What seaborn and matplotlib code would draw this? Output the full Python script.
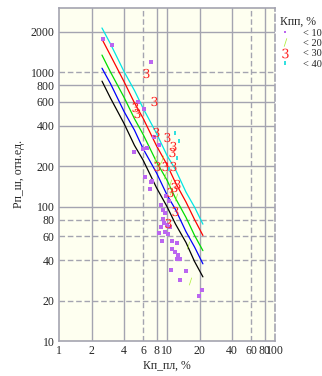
import numpy as np
import pandas as pd
import matplotlib
matplotlib.use("Agg")
import matplotlib.pyplot as plt
import seaborn as sns
from matplotlib.lines import Line2D

sns.set_style("white")
plt.rcParams['font.family'] = ['Liberation Serif', 'DejaVu Serif']
plt.rcParams['mathtext.fontset'] = 'dejavuserif'

# ---- line data (Рп_ш vs Кп_пл for each Кпп group) ----
line_x = [2.5, 3.0, 4.0, 5.0, 6.0, 8.0, 10.0, 12.0, 15.0, 18.0, 21.5]
line_cyan  = [2130, 1620, 1010, 730, 540, 350, 240, 188, 128, 99, 74]
line_red   = [1760, 1330, 850, 590, 455, 283, 205, 150, 108, 80, 61]
line_green = [1340, 1000, 650, 450, 345, 215, 157, 115, 83, 61, 47]
line_blue  = [1070, 820, 510, 370, 270, 178, 122, 95, 65, 50, 37.5]
line_black = [857, 640, 415, 285, 222, 138, 100, 74, 54, 39, 30]
line_names = ['c', 'r', 'g', 'b', 'k']
line_colors = ['#00e5e5', '#ff0000', '#00dd00', '#0000ff', '#000000']

# ---- scatter data ----
p10_x = [2.55, 3.1, 7.1, 5.4, 6.1, 6.0, 5.0, 6.5, 7.6, 8.4, 6.3, 7.1, 7.3, 7.0,
         8.8, 9.2, 9.6, 9.2, 9.4, 10.0, 8.8, 10.6, 8.4, 9.6, 10.2, 9.0, 11.1,
         12.3, 11.1, 11.8, 12.6, 12.3, 13.2, 10.9, 15.0, 13.2, 21.0, 19.8, 9.8, 10.4]
p10_y = [1760, 1580, 1190, 600, 530, 266, 253, 275, 330, 285, 167, 152, 154, 134,
         102, 95, 90, 81, 76, 73, 71, 71, 64, 65, 63, 55, 55,
         54, 48, 46, 44, 41, 41, 34, 33, 28.5, 24, 21.7, 120, 110]
p20_x = [7.7, 9.0, 8.4, 9.6, 10.6, 15.6, 16.5, 10.8, 12.0]
p20_y = [224, 224, 200, 173, 151, 52, 28, 130, 118]
p30_x = [6.4, 7.6, 5.1, 5.3, 7.9, 10.0, 11.4, 11.1, 8.1, 9.6, 11.4, 12.4, 11.6,
         10.6, 11.8, 10.2]
p30_y = [980, 610, 550, 500, 357, 330, 280, 255, 200, 200, 200, 146, 140,
         129, 92, 76]
p40_x = [11.8, 12.9, 12.3, 10.5]
p40_y = [351, 306, 228, 190]
groups = ['< 10', '< 20', '< 30', '< 40']

x_ticks = [1, 2, 4, 6, 8, 10, 20, 40, 60, 80, 100]
y_ticks = [10, 20, 40, 60, 80, 100, 200, 400, 600, 800, 1000, 2000]

# ---- build frames ----
lines_df = pd.concat([
    pd.DataFrame({'x': line_x, 'y': ys, 'line': n})
    for n, ys in zip(line_names, [line_cyan, line_red, line_green, line_blue, line_black])
])
pts_df = pd.concat([
    pd.DataFrame({'x': xs, 'y': ys, 'g': g})
    for g, xs, ys in zip(groups, [p10_x, p20_x, p30_x, p40_x], [p10_y, p20_y, p30_y, p40_y])
])

fig = plt.figure(figsize=(3.22, 3.76), dpi=100)
ax = fig.add_axes([59/322, 1-341/376, (275-59)/322, (341-8)/376])
ax.set_facecolor('#fefff0')
ax.set_xscale('log')
ax.set_yscale('log')
ax.set_xlim(1, 100)
ax.set_ylim(10, 3000)

grid_c = '#a4a4b0'
for xv in x_ticks[1:-1]:
    ls = (0, (4, 2)) if xv in (6, 60) else '-'
    ax.axvline(xv, color=grid_c, lw=1.0, ls=ls, zorder=0.5)
for yv in y_ticks[1:]:
    ls = (0, (4, 2)) if yv in (20, 40, 60, 80, 1000) else '-'
    ax.axhline(yv, color=grid_c, lw=1.0, ls=ls, zorder=0.5)

sns.lineplot(data=lines_df, x='x', y='y', hue='line', palette=dict(zip(line_names, line_colors)),
             estimator=None, sort=False, legend=False, lw=0.9, ax=ax, zorder=2)

pal = {'< 10': '#bb66f0', '< 20': '#aaee33', '< 30': '#ff2020', '< 40': '#33e0e0'}
mk = {'< 10': 's', '< 20': '$/$', '< 30': '$3$', '< 40': r'$\|$'}
sizes = {'< 10': 5.5, '< 20': 30, '< 30': 45, '< 40': 11}
for g in groups:
    sub = pts_df[pts_df['g'] == g]
    sns.scatterplot(data=sub, x='x', y='y', color=pal[g], marker=mk[g], s=sizes[g],
                    linewidth=0, ax=ax, legend=False, zorder=3)

for s in ['left', 'bottom', 'top']:
    ax.spines[s].set_color(grid_c)
    ax.spines[s].set_linewidth(1.2)
ax.spines['right'].set_color(grid_c)
ax.spines['right'].set_linestyle((0, (4, 2)))
ax.spines['right'].set_linewidth(1.2)

ax.set_xticks(x_ticks)
ax.set_xticklabels([str(v) for v in x_ticks], fontsize=8.5)
ax.set_yticks(y_ticks)
ax.set_yticklabels([str(v) for v in y_ticks], fontsize=8.5)
ax.minorticks_off()
ax.tick_params(length=0, pad=3)
ax.set_xlabel('Кп_пл, %', fontsize=8.5, labelpad=2)
ax.set_ylabel('Рп_ш, отн.ед.', fontsize=8.5, labelpad=4)

handles = [Line2D([], [], ls='none', marker=mk[g], color=pal[g], markersize=ms, markeredgewidth=0)
           for g, ms in zip(groups, [1.8, 6, 7, 3.5])]
leg = ax.legend(handles, groups, title='Кпп, %', loc='upper left', bbox_to_anchor=(0.99, 1.0),
                frameon=False, fontsize=7.5, title_fontsize=8.5, handlelength=1.0,
                handletextpad=1.2, labelspacing=0.1, borderpad=0.2, alignment='left')

fig.savefig('out.png', dpi=100)
